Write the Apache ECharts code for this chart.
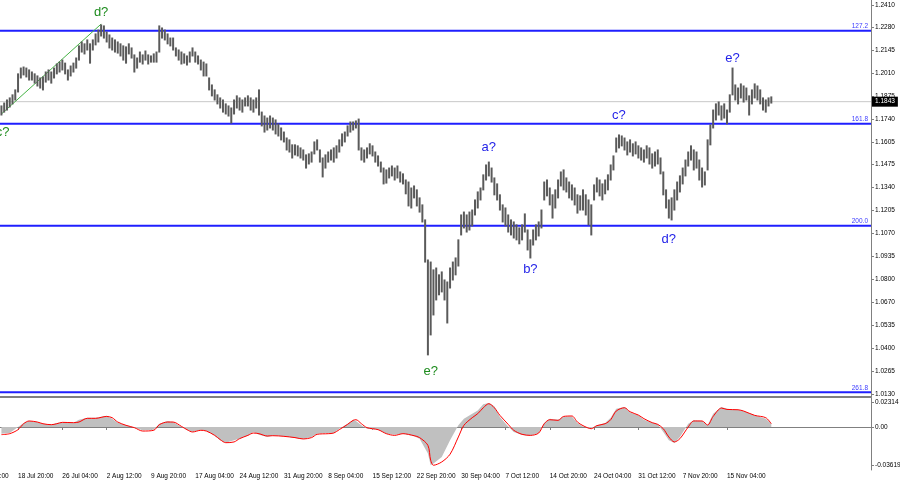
<!DOCTYPE html>
<html>
<head>
<meta charset="utf-8">
<script src="https://cdn.jsdelivr.net/npm/echarts@6/dist/echarts.min.js"></script>
<style>html,body{margin:0;padding:0;background:#fff}#c{width:900px;height:485px}</style>
</head>
<body>
<div id="c"></div>
<script>
// ---------- data ----------
const timeLabels = ['11 Jul 12:00','18 Jul 20:00','26 Jul 04:00','2 Aug 12:00','9 Aug 20:00','17 Aug 04:00','24 Aug 12:00','31 Aug 20:00','8 Sep 04:00','15 Sep 12:00','22 Sep 20:00','30 Sep 04:00','7 Oct 12:00','14 Oct 20:00','24 Oct 04:00','31 Oct 12:00','7 Nov 20:00','15 Nov 04:00'];
const priceTicks = [1.2410,1.2280,1.2145,1.2010,1.1875,1.1740,1.1605,1.1475,1.1340,1.1205,1.1070,1.0935,1.0800,1.0670,1.0535,1.0400,1.0265,1.0130];
const macdTicks = [0.02314, 0, -0.03619];

const highs = [1.1818,1.1835,1.1853,1.1865,1.1883,1.1912,1.2006,1.2040,1.2046,1.2040,
1.2029,1.2017,1.2006,1.1994,1.1982,1.1988,1.2017,1.2029,1.2017,1.2040,
1.2064,1.2075,1.2087,1.2069,1.2029,1.2052,1.2069,1.2099,1.2170,1.2193,
1.2182,1.2205,1.2182,1.2205,1.2240,1.2263,1.2293,1.2287,1.2251,1.2234,
1.2216,1.2205,1.2193,1.2182,1.2170,1.2164,1.2182,1.2158,1.2117,1.2099,
1.2134,1.2117,1.2140,1.2117,1.2111,1.2123,1.2134,1.2287,1.2275,1.2263,
1.2240,1.2216,1.2216,1.2158,1.2146,1.2134,1.2123,1.2111,1.2134,1.2158,
1.2134,1.2111,1.2087,1.2075,1.2064,1.1982,1.1941,1.1912,1.1883,1.1865,
1.1853,1.1830,1.1818,1.1806,1.1853,1.1877,1.1865,1.1853,1.1865,1.1877,
1.1865,1.1853,1.1865,1.1912,1.1782,1.1759,1.1747,1.1759,1.1747,1.1736,
1.1713,1.1689,1.1665,1.1630,1.1619,1.1590,1.1590,1.1584,1.1572,1.1560,
1.1531,1.1537,1.1548,1.1607,1.1619,1.1560,1.1513,1.1531,1.1548,1.1560,
1.1572,1.1584,1.1619,1.1654,1.1665,1.1701,1.1724,1.1724,1.1730,1.1741,
1.1572,1.1560,1.1572,1.1596,1.1584,1.1548,1.1525,1.1489,1.1454,1.1443,
1.1454,1.1466,1.1454,1.1466,1.1431,1.1420,1.1384,1.1372,1.1337,1.1349,
1.1326,1.1279,1.1238,1.1150,1.0915,1.0903,1.0857,1.0868,1.0828,1.0845,
1.0798,1.0786,1.0868,1.0903,1.0927,1.1033,1.1179,1.1196,1.1179,1.1196,
1.1208,1.1267,1.1314,1.1337,1.1414,1.1472,1.1489,1.1454,1.1396,1.1361,
1.1297,1.1238,1.1220,1.1179,1.1150,1.1138,1.1121,1.1103,1.1121,1.1185,
1.1091,1.1033,1.1091,1.1121,1.1138,1.1208,1.1372,1.1384,1.1337,1.1297,
1.1326,1.1384,1.1431,1.1443,1.1396,1.1372,1.1355,1.1337,1.1297,1.1291,
1.1326,1.1297,1.1267,1.1238,1.1355,1.1396,1.1384,1.1361,1.1384,1.1414,
1.1472,1.1525,1.1630,1.1648,1.1642,1.1630,1.1607,1.1619,1.1596,1.1607,
1.1584,1.1572,1.1560,1.1584,1.1572,1.1537,1.1548,1.1560,1.1513,1.1431,
1.1326,1.1267,1.1279,1.1326,1.1372,1.1408,1.1454,1.1501,1.1548,1.1584,
1.1560,1.1548,1.1501,1.1454,1.1431,1.1619,1.1707,1.1794,1.1830,1.1841,
1.1818,1.1830,1.1794,1.1883,1.2040,1.1941,1.1923,1.1947,1.1935,1.1923,
1.1877,1.1912,1.1947,1.1935,1.1912,1.1865,1.1853,1.1865,1.1871];

const lows = [1.1765,1.1782,1.1794,1.1812,1.1830,1.1853,1.1900,1.1982,1.2000,1.1988,
1.1970,1.1970,1.1952,1.1935,1.1923,1.1912,1.1958,1.1970,1.1952,1.1982,
1.2006,1.2017,1.2029,1.2006,1.1970,1.1994,1.2017,1.2040,1.2087,1.2134,
1.2123,1.2146,1.2069,1.2146,1.2176,1.2193,1.2228,1.2216,1.2193,1.2158,
1.2146,1.2134,1.2128,1.2111,1.2087,1.2069,1.2123,1.2099,1.2017,1.2040,
1.2075,1.2064,1.2087,1.2064,1.2075,1.2075,1.2075,1.2134,1.2216,1.2205,
1.2182,1.2170,1.2146,1.2111,1.2087,1.2064,1.2069,1.2058,1.2075,1.2111,
1.2075,1.2064,1.2029,1.1994,1.1994,1.1912,1.1877,1.1853,1.1830,1.1806,
1.1782,1.1771,1.1759,1.1718,1.1771,1.1806,1.1794,1.1782,1.1818,1.1818,
1.1794,1.1782,1.1806,1.1765,1.1701,1.1665,1.1677,1.1689,1.1677,1.1654,
1.1642,1.1619,1.1607,1.1560,1.1548,1.1513,1.1531,1.1525,1.1513,1.1501,
1.1454,1.1478,1.1489,1.1537,1.1560,1.1489,1.1402,1.1454,1.1489,1.1501,
1.1489,1.1513,1.1548,1.1584,1.1607,1.1642,1.1665,1.1677,1.1689,1.1560,
1.1501,1.1489,1.1513,1.1537,1.1525,1.1489,1.1466,1.1431,1.1361,1.1366,
1.1396,1.1408,1.1384,1.1396,1.1372,1.1361,1.1303,1.1232,1.1220,1.1279,
1.1232,1.1196,1.1138,1.0903,1.0359,1.0476,1.0593,1.0681,1.0711,1.0728,
1.0681,1.0546,1.0751,1.0798,1.0828,1.0880,1.1062,1.1103,1.1079,1.1091,
1.1115,1.1179,1.1220,1.1267,1.1326,1.1384,1.1408,1.1372,1.1297,1.1267,
1.1208,1.1138,1.1115,1.1079,1.1062,1.1044,1.1033,1.1010,1.1033,1.1079,
1.0974,1.0927,1.1003,1.1033,1.1056,1.1103,1.1267,1.1291,1.1238,1.1161,
1.1220,1.1279,1.1349,1.1326,1.1314,1.1279,1.1267,1.1238,1.1190,1.1208,
1.1208,1.1179,1.1121,1.1062,1.1267,1.1314,1.1291,1.1267,1.1303,1.1326,
1.1384,1.1443,1.1548,1.1572,1.1584,1.1560,1.1531,1.1548,1.1525,1.1537,
1.1513,1.1501,1.1489,1.1513,1.1478,1.1454,1.1466,1.1478,1.1420,1.1297,
1.1220,1.1161,1.1150,1.1208,1.1267,1.1314,1.1361,1.1408,1.1466,1.1501,
1.1443,1.1454,1.1384,1.1343,1.1355,1.1443,1.1590,1.1689,1.1736,1.1765,
1.1736,1.1747,1.1713,1.1782,1.1883,1.1853,1.1830,1.1865,1.1841,1.1853,
1.1765,1.1830,1.1865,1.1853,1.1830,1.1794,1.1782,1.1818,1.1835];

const currentPrice = 1.1843;
const fibLevels = [1.2259, 1.1714, 1.1116, 1.0140];
const fibNames = ['127.2', '161.8', '200.0', '261.8'];
const trendFrom = [0, 1.1771];
const trendTo = [36, 1.2298];

const waveNames  = ['c?', 'd?', 'e?', 'a?', 'b?', 'c?', 'd?', 'e?'];
const waveSlots  = [0, 36, 155, 176, 191, 223, 241, 264];
const wavePrices = [1.1660, 1.2369, 1.0259, 1.1572, 1.0857, 1.1765, 1.1033, 1.2099];
const waveColors = ['#1e8c1e','#1e8c1e','#1e8c1e','#2424e8','#2424e8','#2424e8','#2424e8','#2424e8'];
const waveAlign  = ['right','center','center','center','center','center','center','center'];

const macdSlots = [0,3,6,8,10,13,15,18,20,22,26,28,31,34,38,40,42,45,48,51,55,57,60,62,65,67,69,72,74,77,79,81,84,86,89,91,93,96,98,102,106,109,112,114,118,120,122,125,127,128,130,132,136,139,142,145,149,151,154,155,156,159,162,165,167,170,172,174,176,178,180,183,185,188,191,194,196,198,201,203,206,208,210,213,215,218,220,222,225,227,230,232,235,237,239,241,243,245,248,250,253,255,257,260,262,266,268,272,276,278];
const macdHist = [-0.0063,-0.0057,0,0.0038,0.0057,0.0047,0.0031,0.0022,0.0038,0.0044,0.0041,0.0069,0.0088,0.0088,0.0107,0.0079,0.0041,0.0016,-0.0006,-0.0031,-0.0025,0.0031,0.0057,0.0047,0,-0.0025,-0.0047,-0.0025,-0.0038,-0.0079,-0.0126,-0.0148,-0.0126,-0.0110,-0.0079,-0.0047,-0.0072,-0.0094,-0.0079,-0.0088,-0.0104,-0.0113,-0.0094,-0.0063,-0.0057,-0.0057,-0.0016,0.0031,0.0069,0.0057,0.0016,-0.0016,-0.0025,-0.0063,-0.0072,-0.0063,-0.0088,-0.0110,-0.0251,-0.0361,-0.0345,-0.0283,-0.0126,0.0016,0.0079,0.0126,0.0157,0.0214,0.0226,0.0195,0.0094,0.0006,-0.0047,-0.0075,-0.0082,-0.0057,0.0038,0.0079,0.0069,0.0100,0.0100,0.0038,0.0006,-0.0016,0.0016,0.0038,0.0088,0.0173,0.0188,0.0138,0.0110,0.0069,0.0041,0.0025,-0.0047,-0.0126,-0.0151,-0.0094,0.0031,0.0063,0.0057,0.0016,0.0126,0.0188,0.0173,0.0163,0.0151,0.0110,0.0079,0.0031];
const macdSignal = [-0.0072,-0.0063,-0.0025,0.0031,0.0057,0.0047,0.0031,0.0022,0.0031,0.0044,0.0041,0.0047,0.0082,0.0082,0.0100,0.0088,0.0047,0.0016,-0.0006,-0.0038,-0.0031,0.0022,0.0047,0.0047,0.0006,-0.0025,-0.0047,-0.0031,-0.0038,-0.0079,-0.0119,-0.0148,-0.0141,-0.0110,-0.0079,-0.0057,-0.0063,-0.0085,-0.0082,-0.0088,-0.0100,-0.0113,-0.0100,-0.0069,-0.0063,-0.0057,-0.0025,0.0025,0.0063,0.0069,0.0031,-0.0006,-0.0025,-0.0063,-0.0079,-0.0063,-0.0082,-0.0100,-0.0173,-0.0314,-0.0361,-0.0330,-0.0257,-0.0094,0.0016,0.0088,0.0126,0.0182,0.0220,0.0182,0.0110,0.0025,-0.0031,-0.0069,-0.0079,-0.0057,0.0031,0.0069,0.0063,0.0100,0.0104,0.0047,0.0013,-0.0016,0.0013,0.0031,0.0069,0.0151,0.0182,0.0144,0.0113,0.0079,0.0041,0.0025,-0.0016,-0.0094,-0.0141,-0.0110,0,0.0057,0.0057,0.0019,0.0100,0.0179,0.0166,0.0163,0.0151,0.0110,0.0088,0.0031];

// ---------- layout helpers ----------
const OFF = 10;          // hidden slots left of the visible area
const NSLOTS = 325;
const cats = [];
for (let i = 0; i < NSLOTS; i++) cats.push(String(i));
const FONT = 'Liberation Sans';
const AXIS_COLOR = '#808080';
const labelEvery = 16;
const isLabelIdx = (idx) => idx % labelEvery === 0 && idx / labelEvery < timeLabels.length;

const barData = highs.map((h, i) => [i + OFF, lows[i], h]);
const histData = macdSlots.map((s, i) => [s + OFF, macdHist[i]]);
const sigData = macdSlots.map((s, i) => [s + OFF, macdSignal[i]]);
const waveData = waveNames.map((n, i) => [waveSlots[i] + OFF, wavePrices[i]]);

// horizontal levels drawn as two-point line series spanning the whole category range
const levelSeries = fibLevels.map((v, i) => ({
  type: 'line', xAxisIndex: 0, yAxisIndex: 0, silent: true, clip: false, symbol: 'none', showSymbol: false,
  data: [[0, v], [NSLOTS - 1, v]], z: 2,
  lineStyle: { color: '#1f1fff', width: 2 },
  endLabel: { show: true, formatter: fibNames[i], color: '#3a3aff', fontSize: 6.5, fontFamily: FONT,
              align: 'right', verticalAlign: 'bottom', offset: [-3, -1], distance: 0 }
}));

const gridBase = { left: -26.27, right: 29, containLabel: false, outerBoundsMode: 'none' };

const chart = echarts.init(document.getElementById('c'), null, { renderer: 'canvas' });
chart.setOption({
  animation: false,
  backgroundColor: '#ffffff',
  textStyle: { fontFamily: FONT },
  grid: [
    Object.assign({ top: 0, height: 397 }, gridBase),
    Object.assign({ top: 398, height: 72 }, gridBase)
  ],
  xAxis: [
    { type: 'category', gridIndex: 0, data: cats, boundaryGap: false,
      axisLine: { show: true, lineStyle: { color: AXIS_COLOR, width: 2 } },
      axisTick: { show: false }, axisLabel: { show: false }, splitLine: { show: false } },
    { type: 'category', gridIndex: 1, data: cats, boundaryGap: false,
      axisLine: { show: true, lineStyle: { color: AXIS_COLOR, width: 1 } },
      axisTick: { show: true, interval: (idx) => isLabelIdx(idx), length: 3, lineStyle: { color: AXIS_COLOR } },
      axisLabel: { show: true, interval: (idx) => isLabelIdx(idx), formatter: (v, idx) => timeLabels[Math.round(Number(v) / labelEvery)],
                   align: 'left', fontSize: 6.5, color: '#000', margin: 3, fontFamily: FONT },
      splitLine: { show: false } }
  ],
  yAxis: [
    { type: 'value', gridIndex: 0, position: 'right', min: 1.0112, max: 1.2439, scale: true,
      axisLine: { show: true, lineStyle: { color: AXIS_COLOR, width: 1 } },
      axisTick: { show: true, length: 3, customValues: priceTicks, lineStyle: { color: AXIS_COLOR } },
      axisLabel: { show: true, customValues: priceTicks, formatter: (v) => v.toFixed(4), fontSize: 6.5, color: '#000', margin: 4, fontFamily: FONT },
      splitLine: { show: false } },
    { type: 'value', gridIndex: 1, position: 'right', min: -0.0406, max: 0.0274,
      axisLine: { show: true, lineStyle: { color: AXIS_COLOR, width: 1 } },
      axisTick: { show: true, length: 3, customValues: macdTicks, lineStyle: { color: AXIS_COLOR } },
      axisLabel: { show: true, customValues: macdTicks, formatter: (v) => (v === 0 ? '0.00' : v.toFixed(5)), fontSize: 6.5, color: '#000', margin: 4, fontFamily: FONT },
      splitLine: { show: false } }
  ],
  series: levelSeries.concat([
    { type: 'line', xAxisIndex: 0, yAxisIndex: 0, silent: true, clip: false, symbol: 'none', showSymbol: false,
      data: [[0, currentPrice], [NSLOTS - 1, currentPrice]], z: 1,
      lineStyle: { color: '#c8c8c8', width: 1 },
      endLabel: { show: true, formatter: currentPrice.toFixed(4), color: '#fff', backgroundColor: '#000',
                  padding: [2, 3, 1, 3], fontSize: 6.5, fontFamily: FONT, distance: 1 } },
    { type: 'line', xAxisIndex: 0, yAxisIndex: 0, silent: true, symbol: 'none', showSymbol: false, z: 2,
      data: [[trendFrom[0] + OFF, trendFrom[1]], [trendTo[0] + OFF, trendTo[1]]],
      lineStyle: { color: '#45b445', width: 1 } },
    { type: 'custom', xAxisIndex: 0, yAxisIndex: 0, data: barData, encode: { x: 0, y: [1, 2] }, z: 3,
      renderItem: function (params, api) {
        const lo = api.coord([api.value(0), api.value(1)]);
        const hi = api.coord([api.value(0), api.value(2)]);
        return { type: 'line', shape: { x1: lo[0], y1: lo[1] + 0.5, x2: hi[0], y2: hi[1] - 0.5 },
                 style: { stroke: '#5a5a5a', lineWidth: 2 } };
      } },
    { type: 'custom', xAxisIndex: 0, yAxisIndex: 0, data: waveData, encode: { x: 0, y: 1 }, z: 5, clip: false,
      renderItem: function (params, api) {
        const i = params.dataIndex;
        const p = api.coord([api.value(0), api.value(1)]);
        const right = waveAlign[i] === 'right';
        return { type: 'text', x: p[0] + (right ? 8 : 0), y: p[1],
                 style: { text: waveNames[i], fill: waveColors[i], font: '13px "Liberation Sans"',
                          align: right ? 'right' : 'center', verticalAlign: 'middle',
                          textAlign: right ? 'right' : 'center', textVerticalAlign: 'middle' } };
      } },
    { type: 'line', xAxisIndex: 1, yAxisIndex: 1, data: histData, showSymbol: false, symbol: 'none',
      lineStyle: { width: 0, color: '#c0c0c0' }, areaStyle: { color: '#c0c0c0', opacity: 1 }, z: 2 },
    { type: 'line', xAxisIndex: 1, yAxisIndex: 1, data: sigData, showSymbol: false, symbol: 'none', smooth: 0.3,
      lineStyle: { width: 1, color: '#ff0000' }, z: 3 }
  ])
});
</script>
</body>
</html>
